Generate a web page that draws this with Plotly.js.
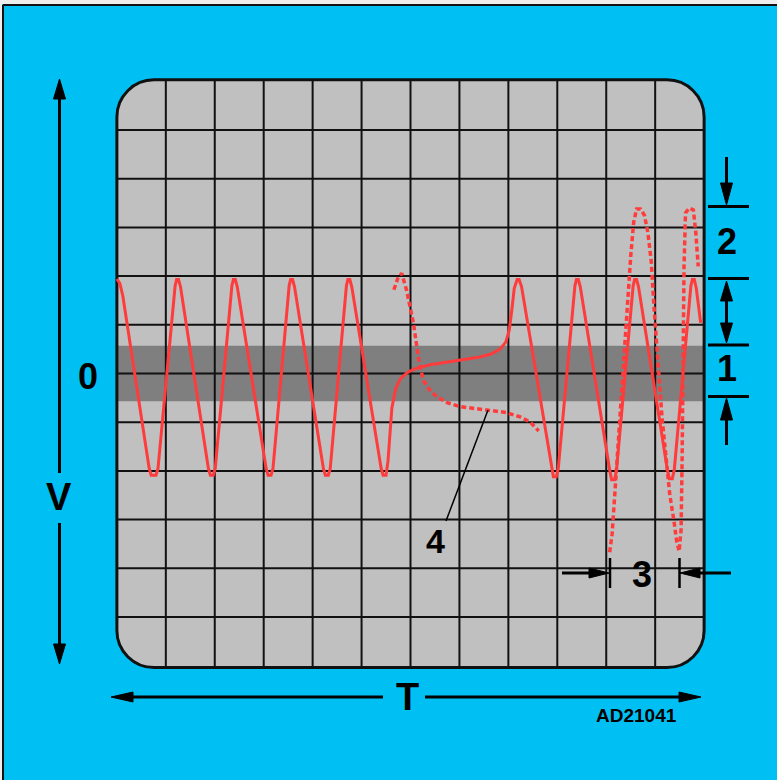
<!DOCTYPE html>
<html><head><meta charset="utf-8">
<script src="https://cdn.plot.ly/plotly-3.0.1.min.js"></script>
<style>html,body{margin:0;padding:0;background:#00BFF2;overflow:hidden}#chart{width:777px;height:780px}</style>
</head><body><div id="chart"></div>
<script>
// ---- trace values (grid units: x 0..12, y -6..6) ----
const solidX = [0.00,0.06,0.12,0.66,0.70,0.80,0.84,1.19,1.22,1.26,1.30,1.87,1.91,1.97,2.01,2.35,2.38,2.42,2.46,3.05,3.09,3.15,3.19,3.52,3.55,3.59,3.63,4.22,4.26,4.32,4.36,4.69,4.72,4.76,4.80,5.40,5.44,5.50,5.54,5.58,5.62,5.70,5.80,5.95,6.10,6.40,6.75,7.10,7.42,7.65,7.83,7.95,8.02,8.07,8.12,8.18,8.22,8.27,8.88,8.92,8.98,9.02,9.36,9.39,9.43,9.47,10.07,10.11,10.17,10.21,10.55,10.58,10.62,10.66,11.25,11.29,11.35,11.39,11.73,11.76,11.80,11.84,11.93];
const solidY = [1.94,1.85,1.60,-1.95,-2.09,-2.09,-1.95,1.80,1.93,1.93,1.78,-1.95,-2.09,-2.09,-1.95,1.80,1.93,1.93,1.78,-1.95,-2.09,-2.09,-1.95,1.80,1.93,1.93,1.78,-1.95,-2.09,-2.09,-1.95,1.80,1.93,1.93,1.78,-1.95,-2.09,-2.09,-1.80,-1.20,-0.70,-0.30,-0.10,0.03,0.10,0.18,0.24,0.29,0.34,0.40,0.50,0.65,0.90,1.30,1.75,1.93,1.93,1.78,-1.95,-2.12,-2.12,-1.95,1.80,1.93,1.93,1.78,-1.98,-2.18,-2.18,-1.98,1.80,1.93,1.93,1.78,-1.98,-2.16,-2.16,-1.98,1.80,1.93,1.93,1.75,1.04];
const dashAX = [5.66,5.74,5.82,5.92,6.06,6.16,6.26,6.40,6.54,6.75,7.01,7.30,7.63,7.95,8.24,8.45,8.62];
const dashAY = [1.72,1.95,2.06,1.71,1.03,0.34,-0.14,-0.35,-0.48,-0.60,-0.68,-0.72,-0.75,-0.80,-0.89,-1.00,-1.18];
const dashBX = [10.07,10.12,10.18,10.25,10.33,10.42,10.50,10.56,10.62,10.70,10.78,10.85,10.92,10.98,11.06,11.14,11.22,11.30,11.38,11.44,11.49,11.53,11.55,11.57,11.59,11.62,11.70,11.78,11.83,11.88];
const dashBY = [-3.67,-3.30,-2.40,-1.30,-0.10,1.20,2.40,3.10,3.38,3.38,3.25,2.90,2.30,1.30,0.10,-0.90,-1.70,-2.50,-3.00,-3.45,-3.65,-3.20,-1.80,0.30,2.20,3.30,3.40,3.36,2.90,2.20];
const gridX = [1,2,3,4,5,6,7,8,9,10,11];
const gridY = [-5,-4,-3,-2,-1,0,1,2,3,4,5];
const labelText = ['0','V','T','1','2','3','4','AD21041'];

// ---- geometry / styles ----
const L=112, W=597, T=75, H=597;
const px = x => (x-L)/W, py = y => (T+H-y)/H;
const CYAN='#00BFF2', RED='#FF3B3B';
const X0=0,X1=12,Y0=-6.04,Y1=6.03, rx=0.76, ry=0.76, k=0.5523;

const shapes = [];
// outer frame (top/left)
shapes.push({type:'rect',xref:'paper',yref:'paper',x0:px(0),x1:px(777),y0:py(0),y1:py(4),fillcolor:'#eeeeee',line:{width:0},layer:'below'});
shapes.push({type:'rect',xref:'paper',yref:'paper',x0:px(0),x1:px(2),y0:py(0),y1:py(780),fillcolor:'#eeeeee',line:{width:0},layer:'below'});
shapes.push({type:'line',xref:'paper',yref:'paper',x0:px(3),x1:px(777),y0:py(5),y1:py(5),line:{color:'#111',width:2}});
shapes.push({type:'line',xref:'paper',yref:'paper',x0:px(3),x1:px(3),y0:py(5),y1:py(780),line:{color:'#111',width:2}});

// screen
const scr = `M ${X0+rx},${Y1} L ${X1-rx},${Y1} C ${X1-rx+k*rx},${Y1} ${X1},${Y1-ry+k*ry} ${X1},${Y1-ry} L ${X1},${Y0+ry} C ${X1},${Y0+ry-k*ry} ${X1-rx+k*rx},${Y0} ${X1-rx},${Y0} L ${X0+rx},${Y0} C ${X0+rx-k*rx},${Y0} ${X0},${Y0+ry-k*ry} ${X0},${Y0+ry} L ${X0},${Y1-ry} C ${X0},${Y1-ry+k*ry} ${X0+rx-k*rx},${Y1} ${X0+rx},${Y1} Z`;
shapes.push({type:'path',xref:'x',yref:'y',path:scr,fillcolor:'#C0C0C0',line:{width:0},layer:'below'});
shapes.push({type:'rect',xref:'x',yref:'y',x0:X0,x1:X1,y0:-0.57,y1:0.57,fillcolor:'#7F7F7F',line:{width:0},layer:'below'});
gridX.forEach(v=>shapes.push({type:'line',xref:'x',yref:'y',x0:v,x1:v,y0:Y0,y1:Y1,line:{color:'#111',width:2},layer:'below'}));
gridY.forEach(v=>shapes.push({type:'line',xref:'x',yref:'y',x0:X0,x1:X1,y0:v,y1:v,line:{color:'#111',width:2},layer:'below'}));
shapes.push({type:'path',xref:'x',yref:'y',path:scr,fillcolor:'rgba(0,0,0,0)',line:{color:'#111',width:3},layer:'below'});

// helper decorations in pixel space
function seg(x0,y0,x1,y1,w){shapes.push({type:'line',xref:'paper',yref:'paper',x0:px(x0),x1:px(x1),y0:py(y0),y1:py(y1),line:{color:'#000',width:w||3}});}
function head(tx,ty,dir,len,hw){
  len=len||20; hw=hw||6; let p;
  if(dir==='up') p=[[tx,ty],[tx-hw,ty+len],[tx+hw,ty+len]];
  if(dir==='down') p=[[tx,ty],[tx-hw,ty-len],[tx+hw,ty-len]];
  if(dir==='left') p=[[tx,ty],[tx+len,ty-hw],[tx+len,ty+hw]];
  if(dir==='right') p=[[tx,ty],[tx-len,ty-hw],[tx-len,ty+hw]];
  const path='M '+p.map(q=>px(q[0])+','+py(q[1])).join(' L ')+' Z';
  shapes.push({type:'path',xref:'paper',yref:'paper',path:path,fillcolor:'#000',line:{color:'#000',width:1}});
}
// V arrow
seg(59.5,92,59.5,473); seg(59.5,523,59.5,650);
head(59.5,79,'up',20,6); head(59.5,664,'down',20,6);
// T arrow
seg(125,697,383,697); seg(425,697,688,697);
head(111,697,'left',22,5); head(701,697,'right',22,5);
// right markers 1 / 2
[206.5,278.5,345,396.5].forEach(y=>seg(708,y,749,y));
seg(726.5,157,726.5,190); head(726.5,205,'down',22,6);
seg(726.5,295,726.5,330); head(726.5,281,'up',20,6); head(726.5,343,'down',20,6);
seg(726.5,412,726.5,445); head(726.5,398,'up',22,6);
// marker 3
seg(562,573,592,573); head(609,573,'right',20,5);
seg(698,573,731,573); head(680,573,'left',20,5);
seg(610,558,610,588,2.5); seg(679.5,558,679.5,588,2.5);
// leader for 4
seg(446,521,488,410,1.5);

const F='Liberation Sans, Arial, sans-serif';
function lab(t,x,y,s,wt){return {text:t,xref:'paper',yref:'paper',x:px(x),y:py(y),xanchor:'center',yanchor:'middle',showarrow:false,font:{family:F,size:s,color:'#000',weight:wt||'bold'}};}
const annotations=[
  lab(labelText[0],88,376,36), lab(labelText[1],59.5,497,38), lab(labelText[2],407,697,38),
  lab(labelText[3],726.5,368,36), lab(labelText[4],726.5,242,36), lab(labelText[5],642,574,36),
  lab(labelText[6],435,541,34), lab(labelText[7],636,715,19,'bold')
];

const data=[
  {x:solidX,y:solidY,type:'scatter',mode:'lines',line:{color:RED,width:3},hoverinfo:'skip'},
  {x:dashAX,y:dashAY,type:'scatter',mode:'lines',line:{color:RED,width:3.5,dash:'5px,3px'},hoverinfo:'skip'},
  {x:dashBX,y:dashBY,type:'scatter',mode:'lines',line:{color:RED,width:3.5,dash:'5px,3px'},hoverinfo:'skip'}
];
const layout={
  width:777,height:780,margin:{l:L,r:777-L-W,t:T,b:780-T-H},
  paper_bgcolor:CYAN,plot_bgcolor:'rgba(0,0,0,0)',showlegend:false,
  xaxis:{range:[-0.1,12.1],visible:false,fixedrange:true},
  yaxis:{range:[-6.13,6.13],visible:false,fixedrange:true},
  shapes:shapes,annotations:annotations
};
Plotly.newPlot('chart',data,layout,{staticPlot:true,displayModeBar:false});
</script></body></html>
